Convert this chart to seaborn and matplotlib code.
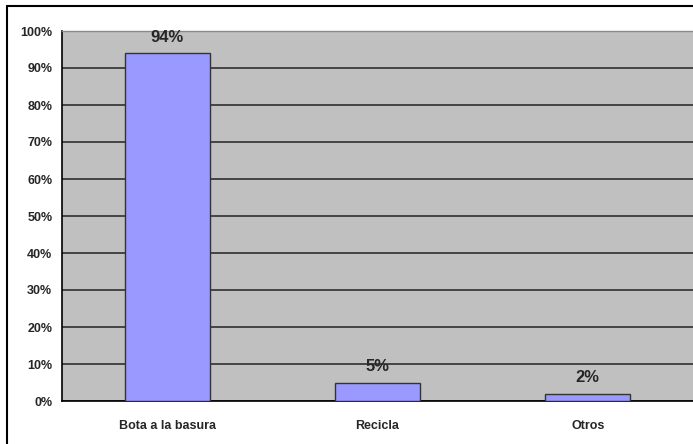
import matplotlib
matplotlib.use("Agg")
import matplotlib.pyplot as plt
from matplotlib import font_manager
import seaborn as sns
import pandas as pd

categories = ["Bota a la basura", "Recicla", "Otros"]
values = [94, 5, 2]
y_ticks = [0, 10, 20, 30, 40, 50, 60, 70, 80, 90, 100]
y_tick_labels = [f"{t}%" for t in y_ticks]

sns.set_style("white")
installed = {f.name for f in font_manager.fontManager.ttflist}
family = ["Liberation Sans Narrow"] if "Liberation Sans Narrow" in installed else ["Liberation Sans"]
plt.rcParams["font.family"] = family + ["DejaVu Sans"]

df = pd.DataFrame({"categoria": categories, "valor": values})

fig = plt.figure(figsize=(6.93, 4.44), dpi=100)
ax = fig.add_axes([62 / 693, 1 - 401 / 444, 1 - 62 / 693, (401 - 31) / 444])

sns.barplot(data=df, x="categoria", y="valor", ax=ax, color="#9999FF",
            saturation=1, width=0.405, edgecolor="#333333", linewidth=1.0,
            zorder=3)

ax.set_facecolor("#C0C0C0")
ax.set_ylim(0, 100)
ax.set_xlim(-0.5, len(categories) - 0.5)
ax.set_yticks(y_ticks)
ax.set_yticklabels(y_tick_labels, fontsize=9, fontweight="bold")
ax.yaxis.grid(True, color="#3a3a3a", linewidth=1.3, zorder=1)
ax.set_axisbelow(True)

# category labels centred, tick marks on category boundaries
ax.set_xticks(range(len(categories)))
ax.set_xticklabels(categories, fontsize=9, fontweight="bold")
ax.tick_params(axis="x", length=0, pad=14)
ax.set_xticks([0.5, 1.5], minor=True)
ax.tick_params(axis="x", which="minor", length=4, width=1, color="#555555", direction="out")
ax.tick_params(axis="y", length=4, width=1, direction="out", pad=3, color="black")
ax.set_xlabel("")
ax.set_ylabel("")

for spine in ["left", "bottom"]:
    ax.spines[spine].set_color("black")
    ax.spines[spine].set_linewidth(1.2)
ax.spines["top"].set_color("#8a8a8a")
ax.spines["top"].set_linewidth(1.0)
ax.spines["right"].set_visible(False)

for i, v in enumerate(values):
    ax.annotate(f"{v}%", xy=(i, v), xytext=(0, 6), textcoords="offset points",
                ha="center", va="bottom", fontsize=12, fontweight="bold", zorder=4)

# outer frame along top and left
fig.add_artist(plt.Line2D([6.5 / 693, 1.0], [1 - 6.5 / 444, 1 - 6.5 / 444],
                          transform=fig.transFigure, color="black", linewidth=1.5))
fig.add_artist(plt.Line2D([6.5 / 693, 6.5 / 693], [0.0, 1 - 6.5 / 444],
                          transform=fig.transFigure, color="black", linewidth=1.5))

fig.savefig("out.png", dpi=100, facecolor="white")
